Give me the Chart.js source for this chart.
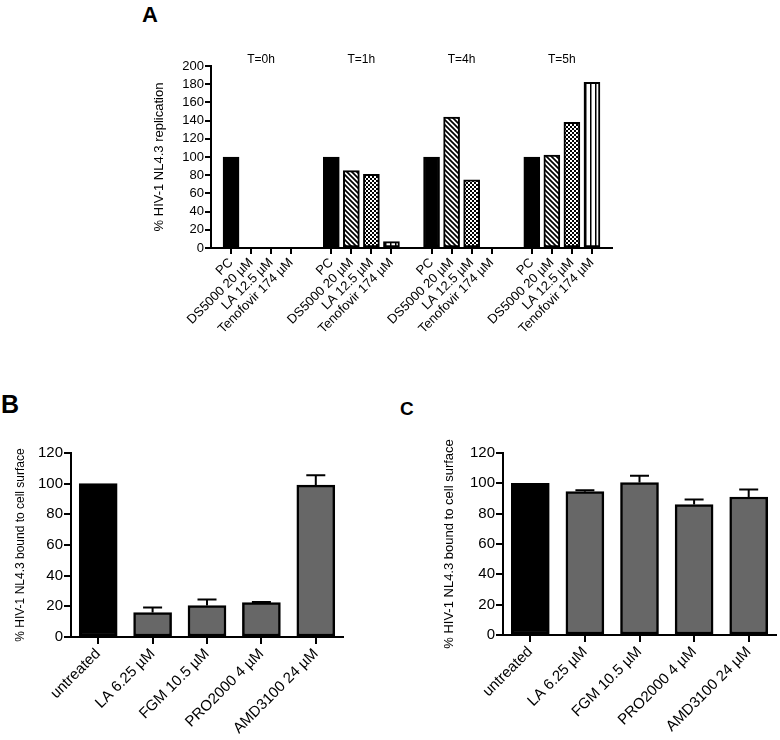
<!DOCTYPE html>
<html>
<head>
<meta charset="utf-8">
<script src="https://cdn.jsdelivr.net/npm/chart.js@4.4.0/dist/chart.umd.min.js"></script>
<style>
  body { margin: 0; background: #fff; }
  #page { position: relative; width: 780px; height: 740px; overflow: hidden; font-family: "Liberation Sans", Arial, sans-serif; }
  canvas, .letter { position: absolute; }
  .letter { font-weight: bold; color: #000; line-height: 1; }
</style>
</head>
<body>
<div id="page">
  <div class="letter" style="left:142px;top:4px;font-size:22px;">A</div>
  <div class="letter" style="left:1px;top:392px;font-size:25px;">B</div>
  <div class="letter" style="left:400px;top:399px;font-size:19px;">C</div>
  <canvas id="chartA" width="490" height="320" style="left:140px;top:40px;"></canvas>
  <canvas id="chartB" width="380" height="310" style="left:0px;top:430px;"></canvas>
  <canvas id="chartC" width="390" height="310" style="left:390px;top:430px;"></canvas>
</div>
<script>
// panel A: replication after adding compound at several time points
const timepoints = ['T=0h', 'T=1h', 'T=4h', 'T=5h'];
const treatments = ['PC', 'DS5000 20 µM', 'LA 12.5 µM', 'Tenofovir 174 µM'];
const replicationT0 = [100, 0, 0, 0];
const replicationT1 = [100, 85, 81, 7];
const replicationT4 = [100, 144, 75, 0];
const replicationT5 = [100, 102, 138, 182];

// panels B and C: virus bound to cell surface
const bindingLabels = ['untreated', 'LA 6.25 µM', 'FGM 10.5 µM', 'PRO2000 4 µM', 'AMD3100 24 µM'];
const bindingB = [100, 16, 20.5, 22.5, 99];
const errorB = [0, 3.3, 3.9, 0.4, 6.5];
const bindingC = [100, 94.5, 100.5, 86, 91];
const errorC = [0, 1, 4.5, 3.3, 5];

Chart.defaults.font.family = '"Liberation Sans", Arial, sans-serif';
Chart.defaults.color = '#000';

function makePattern(kind) {
    const c = document.createElement('canvas');
    const g = c.getContext('2d');
    if (kind === 'hatch') {
        c.width = c.height = 5;
        g.fillStyle = '#fff'; g.fillRect(0, 0, 5, 5);
        g.strokeStyle = '#000'; g.lineWidth = 1.7;
        g.beginPath();
        g.moveTo(-1, -1); g.lineTo(6, 6);
        g.moveTo(-1, 4); g.lineTo(1, 6);
        g.moveTo(4, -1); g.lineTo(6, 1);
        g.stroke();
    } else if (kind === 'checker') {
        c.width = c.height = 4;
        g.fillStyle = '#fff'; g.fillRect(0, 0, 4, 4);
        g.fillStyle = '#000';
        g.fillRect(0, 0, 2, 2); g.fillRect(2, 2, 2, 2);
    } else {
        c.width = 5; c.height = 2;
        g.fillStyle = '#fff'; g.fillRect(0, 0, 5, 2);
        g.fillStyle = '#000'; g.fillRect(0, 0, 1.5, 2);
    }
    return g.createPattern(c, 'repeat');
}

const fills = ['#000', makePattern('hatch'), makePattern('checker'), makePattern('stripes')];

// build the A axis: one empty slot before, between and after groups
const labelsA = [''];
const valuesA = [null];
const fillsA = ['#fff'];
[replicationT0, replicationT1, replicationT4, replicationT5].forEach(group => {
    group.forEach((v, i) => {
        labelsA.push(treatments[i]);
        valuesA.push(v);
        fillsA.push(fills[i]);
    });
    labelsA.push('');
    valuesA.push(null);
    fillsA.push('#fff');
});

const groupTitles = {
    id: 'groupTitles',
    afterDraw(chart) {
        const x = chart.scales.x;
        const ctx = chart.ctx;
        ctx.save();
        ctx.font = '12px "Liberation Sans", Arial, sans-serif';
        ctx.fillStyle = '#000';
        ctx.textAlign = 'center';
        ctx.textBaseline = 'middle';
        timepoints.forEach((t, g) => {
            const first = 1 + g * 5;
            const cx = (x.getPixelForValue(first) + x.getPixelForValue(first + 3)) / 2;
            ctx.fillText(t, cx, chart.chartArea.top - 6);
        });
        ctx.restore();
    }
};

const errorBars = {
    id: 'errorBars',
    afterDatasetsDraw(chart, args, opts) {
        const y = chart.scales.y;
        const ctx = chart.ctx;
        const values = chart.data.datasets[0].data;
        ctx.save();
        ctx.strokeStyle = '#000';
        ctx.lineWidth = 2;
        chart.getDatasetMeta(0).data.forEach((bar, i) => {
            const err = opts.errors[i];
            if (!err) return;
            const top = y.getPixelForValue(values[i] + err);
            ctx.beginPath();
            ctx.moveTo(bar.x, bar.y);
            ctx.lineTo(bar.x, top);
            ctx.moveTo(bar.x - bar.width / 4, top);
            ctx.lineTo(bar.x + bar.width / 4, top);
            ctx.stroke();
        });
        ctx.restore();
    }
};

const axisLine = { color: '#000', width: 2 };

new Chart(document.getElementById('chartA'), {
    type: 'bar',
    data: {
        labels: labelsA,
        datasets: [{
            data: valuesA,
            backgroundColor: fillsA,
            borderColor: '#000',
            borderWidth: 2,
            borderSkipped: false,
            barThickness: 16
        }]
    },
    options: {
        responsive: false,
        animation: false,
        devicePixelRatio: 1,
        layout: { padding: { top: 26, right: 18 } },
        plugins: { legend: { display: false }, tooltip: { enabled: false } },
        scales: {
            x: {
                offset: false,
                border: axisLine,
                grid: {
                    offset: false,
                    drawOnChartArea: false,
                    tickLength: 6,
                    lineWidth: 2,
                    color: ctx => labelsA[ctx.index] === '' ? 'rgba(0,0,0,0)' : '#000'
                },
                ticks: { autoSkip: false, minRotation: 45, maxRotation: 45, padding: 1, font: { size: 13 } },
                afterFit: s => { s.height = 112; }
            },
            y: {
                min: 0,
                max: 200,
                border: axisLine,
                grid: { drawOnChartArea: false, tickLength: 6, lineWidth: 2, color: '#000' },
                ticks: { stepSize: 20, autoSkip: false, padding: 1, font: { size: 13 } },
                title: {
                    display: true,
                    text: '% HIV-1 NL4.3 replication',
                    font: { size: 13 },
                    padding: { top: 12, bottom: 0 }
                },
                afterFit: s => { s.width = 71; }
            }
        }
    },
    plugins: [groupTitles]
});

function bindingChart(id, values, errors, yWidth, padRight, xHeight, titleSize, titlePad) {
    return new Chart(document.getElementById(id), {
        type: 'bar',
        data: {
            labels: bindingLabels,
            datasets: [{
                data: values,
                backgroundColor: values.map((v, i) => i === 0 ? '#000' : '#676767'),
                borderColor: '#000',
                borderWidth: 2.5,
                borderSkipped: false,
                barThickness: 38
            }]
        },
        options: {
            responsive: false,
            animation: false,
            devicePixelRatio: 1,
            layout: { padding: { top: 23, right: padRight } },
            plugins: {
                legend: { display: false },
                tooltip: { enabled: false },
                errorBars: { errors: errors }
            },
            scales: {
                x: {
                    border: axisLine,
                    grid: { offset: false, drawOnChartArea: false, tickLength: 7, lineWidth: 2, color: '#000' },
                    ticks: { autoSkip: false, minRotation: 45, maxRotation: 45, padding: 1, font: { size: 15 } },
                    afterFit: s => { s.height = xHeight; }
                },
                y: {
                    min: 0,
                    max: 120,
                    border: axisLine,
                    grid: { drawOnChartArea: false, tickLength: 7, lineWidth: 2, color: '#000' },
                    ticks: { stepSize: 20, autoSkip: false, padding: 1, font: { size: 15 } },
                    title: {
                        display: true,
                        text: '% HIV-1 NL4.3 bound to cell surface',
                        font: { size: titleSize },
                        padding: { top: titlePad, bottom: 0 }
                    },
                    afterFit: s => { s.width = yWidth; }
                }
            }
        },
        plugins: [errorBars]
    });
}

bindingChart('chartB', bindingB, errorB, 71, 37, 103, 12, 13);
bindingChart('chartC', bindingC, errorC, 113, 4, 105, 13, 52);
</script>
</body>
</html>
